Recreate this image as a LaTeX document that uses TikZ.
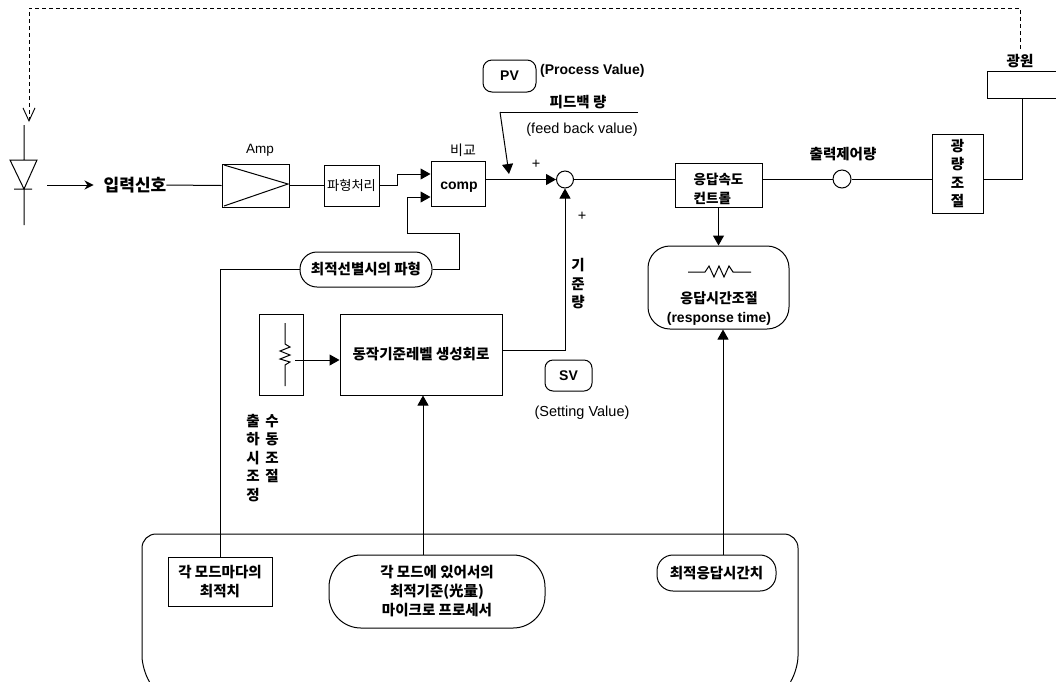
\documentclass[tikz,border=0pt]{standalone}
\usepackage{fontspec}
\setmainfont{Liberation Sans}
\newfontfamily\krfont{Noto Sans CJK KR}
\usetikzlibrary{arrows.meta,positioning}
\tikzset{
  block/.style={draw,line width=1pt,inner sep=0pt,align=center},
  pill/.style={draw,line width=1pt,inner sep=0pt,align=center,rounded corners=#1},
  label/.style={inner sep=0pt,align=center,font=\krfont\bfseries\fontsize{14.5}{18.5}\selectfont},
  labelwide/.style={font=\krfont\bfseries\fontsize{14.5}{19}\selectfont},
  biglabel/.style={inner sep=0pt,font=\krfont\bfseries\fontsize{17}{18}\selectfont},
  latin/.style={inner sep=0pt,font=\fontsize{14.5}{17}\selectfont},
  latinbold/.style={font=\bfseries\fontsize{14}{17}\selectfont},
  wire/.style={line width=1pt},
  arrow/.style={line width=1pt,-{Triangle[length=10pt,width=11pt]}},
  thinarrow/.style={line width=1pt,-{Stealth[length=9pt,width=9pt]}},
  feedback/.style={line width=0.9pt,dash pattern=on 4pt off 3pt,-{Straight Barb[length=13pt,width=12pt]}}
}
\begin{document}
\begin{tikzpicture}[x=1pt,y=-1pt]
  \useasboundingbox (0,0) rectangle (1056,681);
  % upper chain
  \node[biglabel] (input) at (135,185) {입력신호};
  \node[block,minimum width=67pt,minimum height=43pt] (amp) at (255.5,185.5) {};
  \node[latin,font=\fontsize{13.5}{16}\selectfont] (amplabel) at (260,150) {Amp};
  \node[block,minimum width=55pt,minimum height=41pt,font=\krfont\fontsize{13.3}{15}\selectfont] (wave) at (351.5,185.5) {파형처리};
  \node[block,minimum width=54pt,minimum height=45pt] (comp) at (458,183.5) {};
  \node[latinbold,inner sep=0pt] (compname) at (459,187) {comp};
  \node[inner sep=0pt,font=\krfont\fontsize{14}{16}\selectfont] (complabel) at (463,150) {비교};
  \node[draw,circle,line width=1pt,minimum size=17pt,inner sep=0pt] (sum) at (565,179.5) {};
  \node[block,minimum width=87pt,minimum height=44pt] (speed) at (718.5,185) {};
  \node[inner sep=0pt,align=left,font=\krfont\bfseries\fontsize{13.5}{19}\selectfont] (speedlabel) at (718.5,189) {응답속도\\컨트롤};
  \node[draw,circle,line width=1pt,minimum size=18pt,inner sep=0pt] (out) at (842,179) {};
  \node[label] (outlabel) at (843,154) {출력제어량};
  \node[block,minimum width=51pt,minimum height=79pt,label,draw] (light) at (957.5,173.5) {광\\량\\조\\절};
  \node[label] (lamplabel) at (1020,61) {광원};
  \coordinate (lampbottom) at (1022,98);
  \draw[wire] (1056,71) -- (987,71) -- (987,98) -- (1056,98);
  % process value
  \node[pill=9pt,minimum width=53pt,minimum height=32pt,latinbold] (pv) at (509.5,76) {PV};
  \node[latinbold,inner sep=0pt,anchor=west] (pvtext) at (540,71) {(Process Value)};
  \node[label] (fbtitle) at (578,102) {피드백 량};
  \node[latin] (fbtext) at (582,130) {(feed back value)};
  \node[latin] (plusa) at (536,164) {+};
  \node[latin] (plusb) at (582,216) {+};
  \coordinate (fbleft) at (500,112);
  \coordinate (fbright) at (638,112);
  \coordinate (fbtip) at (509,174);
  % reference level
  \node[pill=17pt,minimum width=132pt,minimum height=35pt,labelwide] (shape) at (366,269.5) {최적선별시의 파형};
  \node[pill=22pt,minimum width=141pt,minimum height=83pt] (resp) at (718.5,287.5) {};
  \node[inner sep=0pt,align=center,font=\bfseries\fontsize{14}{19}\selectfont] (resplabel) at (719,309) {{\krfont 응답시간조절}\\(response time)};
  \node[block,minimum width=44pt,minimum height=81pt] (pot) at (281,354.5) {};
  \node[block,minimum width=162pt,minimum height=81pt,labelwide] (level) at (421,354.5) {동작기준레벨 생성회로};
  \node[label] (reflabel) at (578,284) {기\\준\\량};
  \node[pill=8pt,minimum width=47pt,minimum height=31pt,latinbold] (sv) at (568.5,375.5) {SV};
  \node[latin] (svtext) at (582,413) {(Setting Value)};
  \node[label,anchor=north] (manual) at (272,414) {수\\동\\조\\절};
  \node[label,anchor=north] (factory) at (253,414) {출\\하\\시\\조\\정};
  % lower frame
  \draw[wire,rounded corners=14pt] (149,681) -- (142,670) -- (142,534) -- (798,534) -- (798,670) -- (791,681);
  \node[block,minimum width=104pt,minimum height=49pt,labelwide] (modeval) at (220,581.5) {각 모드마다의\\최적치};
  \node[pill=32pt,minimum width=216pt,minimum height=73pt,labelwide] (micro) at (437,591.5) {각 모드에 있어서의\\최적기준(光量)\\마이크로 프로세서};
  \node[pill=16pt,minimum width=119pt,minimum height=36pt,labelwide] (besttime) at (716.5,573) {최적응답시간치};
  % diode
  \coordinate (diodetop) at (24,125);
  \coordinate (diodeout) at (47,185);
  \draw[wire] (diodetop) -- (24,160) (10,160) -- (37,160) -- (24,189) -- cycle (14,189) -- (32,189) (24,189) -- (24,225);
  % amp symbol and resistors
  \draw[wire] (224,165) -- (288,184) -- (224,206);
  \draw[wire] (285,323) -- (285,344) -- (290,347) -- (280,351) -- (290,355) -- (280,359) -- (290,362) -- (285,365) -- (285,386);
  \draw[wire] (688,272) -- (705,272) -- (709,266) -- (714,277) -- (719,266) -- (724,277) -- (729,266) -- (733,272) -- (751,272);
  \coordinate (wiper) at (295,360);
  \coordinate (levelout) at (565,350);
  % connectors
  \draw[thinarrow] (diodeout) -- ([xshift=-10pt]input.west);
  \draw[wire] (input.east) -- (amp.west);
  \draw[wire] (amp.east) -- (wave.west);
  \draw[arrow] (wave.east) -- (397,185.5) -- (397,174) -- (comp.west |- 0,174);
  \draw[arrow] (shape.east) -- (459,269.5) -- (459,233) -- (407,233) -- (407,197) -- (comp.west |- 0,197);
  \draw[wire] (shape.west) -| (modeval.north);
  \draw[arrow] (comp.east |- sum.west) -- (sum.west);
  \draw[wire] (fbright) -- (fbleft);
  \draw[arrow] (fbleft) -- (fbtip);
  \draw[wire] (sum.east) -- (speed.west |- sum.east);
  \draw[wire] (speed.east |- out.west) -- (out.west);
  \draw[wire] (out.east) -- (light.west |- out.east);
  \draw[wire] (light.east |- out.east) -- (lampbottom |- out.east) -- (lampbottom);
  \draw[arrow] (speed.south) -- (resp.north);
  \draw[arrow] (besttime.north -| 723,0) -- (resp.south -| 723,0);
  \draw[arrow] (level.east |- levelout) -- (levelout) -- (sum.south);
  \draw[arrow] (wiper) -- (level.west |- wiper);
  \draw[arrow] (micro.north -| 423,0) -- (level.south -| 423,0);
  \draw[feedback] (lamplabel.north) ++(0,-5) -- (1020,8) -- (29,8) -- (29,122);
\end{tikzpicture}
\end{document}
